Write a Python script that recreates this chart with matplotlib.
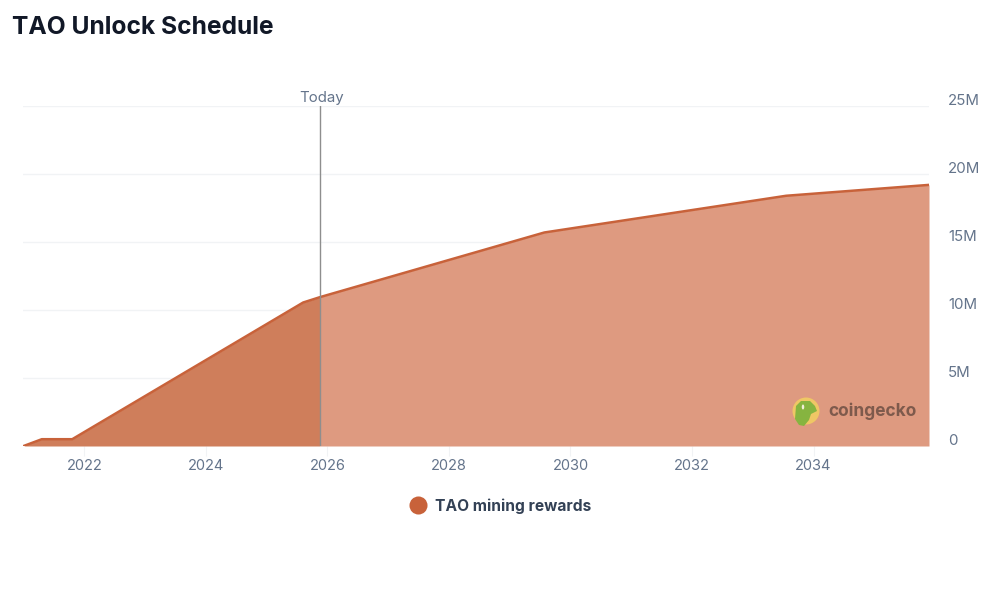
import matplotlib
matplotlib.use('Agg')
import matplotlib.pyplot as plt
from matplotlib.lines import Line2D
from matplotlib.patches import Circle, Ellipse, Polygon
import numpy as np

# data
years = [2021.0, 2021.3, 2021.8, 2025.6, 2025.88, 2029.57, 2033.55, 2035.9]
tao_rewards = [0, 0.5, 0.5, 10.55, 10.95, 15.7, 18.4, 19.2]
today = 2025.88
xticks = [2022, 2024, 2026, 2028, 2030, 2032, 2034]
yticks = [0, 5, 10, 15, 20, 25]
ylabels = ['0', '5M', '10M', '15M', '20M', '25M']

orange = '#C8623A'
grey = '#64748B'

plt.rcParams['font.family'] = ['Inter', 'DejaVu Sans']

fig = plt.figure(figsize=(10, 6), dpi=100)
ax = fig.add_axes([0.023, 1 - 446 / 600, 0.906, 340 / 600])

years = np.array(years)
tao_rewards = np.array(tao_rewards)
past = years <= today
future = years >= today

# past part is darker than the future part
ax.fill_between(years[past], tao_rewards[past], color='#CF7E5B', lw=0, zorder=2)
ax.fill_between(years[future], tao_rewards[future], color='#DE9A80', lw=0, zorder=2)
ax.plot(years, tao_rewards, color=orange, lw=1.8, zorder=3)
ax.axvline(today, color='#8E8E8E', lw=1, zorder=4)
ax.text(today + 0.03, 25.1, 'Today', color=grey, fontsize=10.8, ha='center', va='bottom')

ax.set_xlim(2020.99, 2035.9)
ax.set_ylim(0, 25)
ax.set_xticks(xticks)
ax.set_yticks(yticks)
ax.set_yticklabels([])
ax.grid(axis='y', color='#F1F3F5', lw=1, zorder=0)
ax.tick_params(axis='x', length=7, color='#F1F3F5', labelcolor=grey, labelsize=10.5, pad=2.5)
ax.tick_params(axis='y', length=0)
# y labels sit above their gridlines, to the right of the plot
for y, lab in zip(yticks, ylabels):
    ax.annotate(lab, (1, y), xycoords=('axes fraction', 'data'), xytext=(13.7, 3.4),
                textcoords='offset points', color=grey, fontsize=10.8, ha='left', va='center')
for s in ax.spines.values():
    s.set_visible(False)

fig.text(0.012, 1 - 27 / 600, 'TAO Unlock Schedule', color='#111827', fontsize=17.7,
         fontweight='bold', ha='left', va='center')

handle = Line2D([], [], color='none', marker='o', markersize=13, markerfacecolor=orange,
                markeredgecolor='none', label='TAO mining rewards')
leg = fig.legend(handles=[handle], loc='center', bbox_to_anchor=(0.4965, 1 - 506 / 600),
                 frameon=False, handletextpad=0.1, fontsize=11.2)
for t in leg.get_texts():
    t.set_color('#334155')
    t.set_fontweight('bold')

# coingecko watermark
overlay = fig.add_axes([0, 0, 1, 1], facecolor='none')
overlay.set_xlim(0, 1000)
overlay.set_ylim(600, 0)
overlay.axis('off')
overlay.add_patch(Circle((806, 411), 13.5, color='#EFC765', lw=0))
overlay.add_patch(Polygon([(795, 419), (796, 406), (801, 401), (810, 401), (815, 406),
                           (817, 411), (811, 414), (809, 420), (804, 426), (799, 425)],
                          closed=True, color='#86B440', lw=0))
overlay.add_patch(Ellipse((803, 407), 2.5, 5, color='#F2EFD8', lw=0))
overlay.text(828.5, 411, 'coingecko', color='#7E5A4C', fontsize=12.5, fontweight='bold',
             ha='left', va='center')

fig.savefig('out.png', dpi=100, facecolor='white')
